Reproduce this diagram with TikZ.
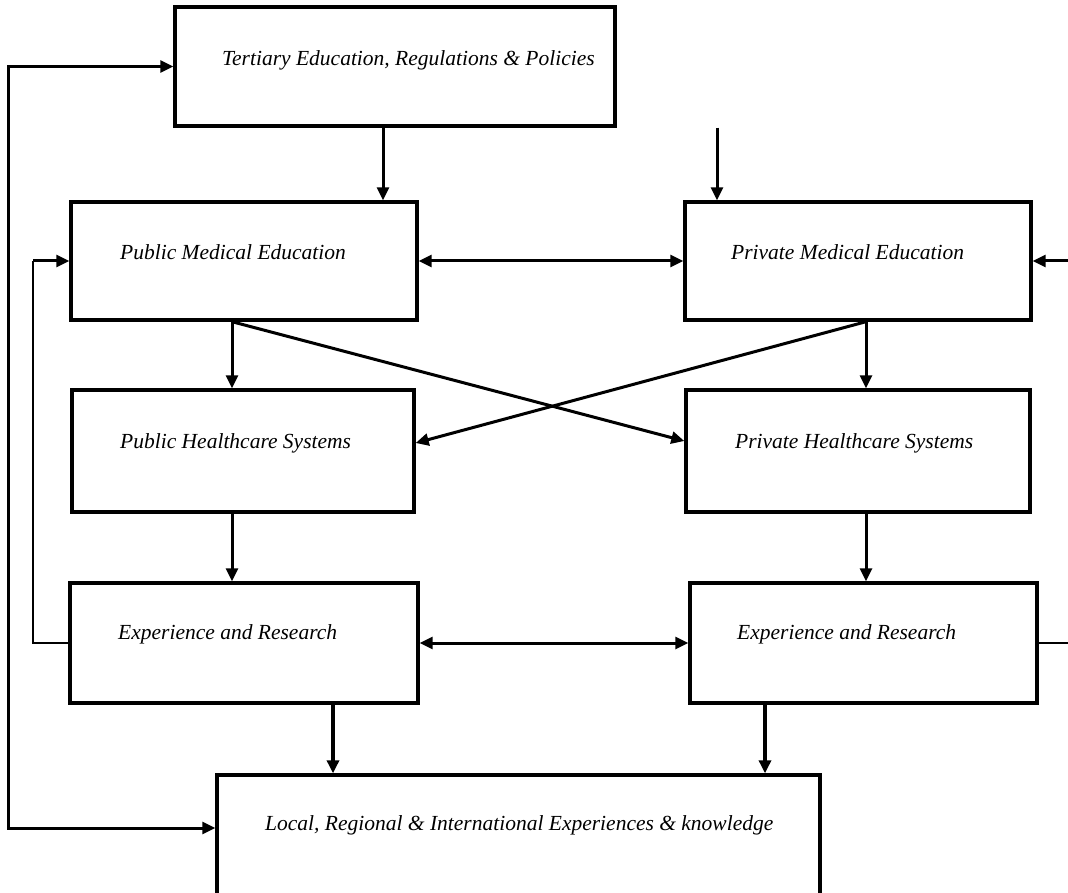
\documentclass[tikz,border=0pt]{standalone}
\usepackage{fontspec}
\setmainfont{Liberation Serif}
\usetikzlibrary{arrows.meta}

\begin{document}
\begin{tikzpicture}[x=1pt,y=-1pt,
    box/.style={draw,line width=3.4pt,rectangle,inner sep=0pt},
    txt/.style={anchor=west,inner sep=0pt,font=\fontsize{21.5}{25}\selectfont\itshape},
    arr/.style={line width=3pt,-{Triangle[length=13pt,width=12pt]}},
    arrr/.style={line width=3pt,{Triangle[length=13pt,width=12pt]}-{Triangle[length=13pt,width=12pt]}},
    thick arr/.style={line width=4pt,-{Triangle[length=13pt,width=12pt]}},
    thin/.style={line width=1.4pt}]
    \clip (0,0) rectangle (1068,893);
    \fill[white] (0,0) rectangle (1068,893);
    % boxes
    \node[box,minimum width=440pt,minimum height=119pt] (tert) at (395,66.5) {};
    \node[box,minimum width=346pt,minimum height=118pt] (pubmed) at (244,261) {};
    \node[box,minimum width=346pt,minimum height=118pt] (privmed) at (858,261) {};
    \node[box,minimum width=342pt,minimum height=122pt] (pubhc) at (243,451) {};
    \node[box,minimum width=344pt,minimum height=122pt] (privhc) at (858,451) {};
    \node[box,minimum width=348pt,minimum height=120pt] (pubexp) at (244,643) {};
    \node[box,minimum width=347pt,minimum height=120pt] (privexp) at (863.5,643) {};
    \node[box,minimum width=603pt,minimum height=160pt] (know) at (518.5,855) {};
    % texts
    \node[txt] (terttxt) at (222,60) {Tertiary Education, Regulations \& Policies};
    \node[txt] (pubmedtxt) at (120,252) {Public Medical Education};
    \node[txt] (privmedtxt) at (731,252) {Private Medical Education};
    \node[txt] (pubhctxt) at (120,443) {Public Healthcare Systems};
    \node[txt] (privhctxt) at (735,443) {Private Healthcare Systems};
    \node[txt] (pubexptxt) at (118,634) {Experience and Research};
    \node[txt] (privexptxt) at (737,634) {Experience and Research};
    \node[txt] (knowtxt) at (265,825) {Local, Regional \& International Experiences \& knowledge};
    % free ends and corners
    \coordinate (lpA) at (8,0);
    \coordinate (lpB) at (33,0);
    \coordinate (rtA) at (1075,0);
    % arrows
    \draw[arr] ([xshift=-12pt]tert.south) -- ([xshift=139pt]pubmed.north);
    \draw[arr] ([xshift=322pt]tert.south) -- ([xshift=-141pt]privmed.north);
    \draw[arrr] (pubmed.east) -- (privmed.west);
    \draw[arr] ([xshift=-12pt]pubmed.south) -- ([xshift=-11pt]pubhc.north);
    \draw[arr] ([xshift=8pt]privmed.south) -- ([xshift=8pt]privhc.north);
    \draw[arr] ([xshift=-12pt]pubmed.south) -- ([yshift=10pt]privhc.west);
    \draw[arr] ([xshift=8pt]privmed.south) -- ([yshift=8pt]pubhc.east);
    \draw[arr] ([xshift=-11pt]pubhc.south) -- ([xshift=-12pt]pubexp.north);
    \draw[arr] ([xshift=8pt]privhc.south) -- ([xshift=2.5pt]privexp.north);
    \draw[arrr] (pubexp.east) -- (privexp.west);
    \draw[thick arr] ([xshift=89pt]pubexp.south) -- ([xshift=-185.5pt]know.north);
    \draw[thick arr] ([xshift=-98.5pt]privexp.south) -- ([xshift=246.5pt]know.north);
    % feedback loops
    \draw[arrr] (tert.west) -- (tert.west -| lpA) -- ([yshift=27pt]know.west -| lpA) -- ([yshift=27pt]know.west);
    \draw[thin] (pubexp.west) -- (pubexp.west -| lpB) -- (pubmed.west -| lpB);
    \draw[arr] (pubmed.west -| lpB) -- (pubmed.west);
    \draw[arr] (privmed.east -| rtA) -- (privmed.east);
    \draw[thin] (privexp.east) -- (privexp.east -| rtA);
\end{tikzpicture}
\end{document}
